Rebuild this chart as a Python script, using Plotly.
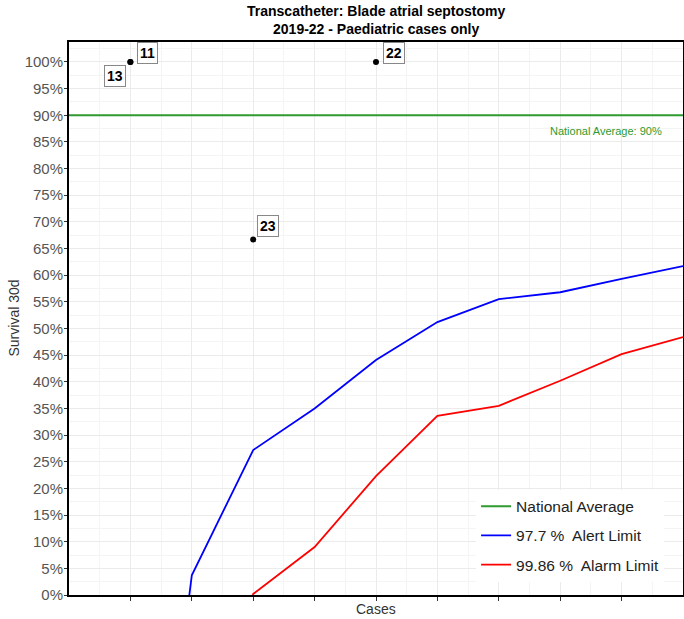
import plotly.graph_objects as go

# hospital points
hospital = ["11", "13", "22", "23"]
cases = [1, 1, 5, 3]
survival = [100, 100, 100, 66.7]

# control limits
alert_x = [1.96, 2, 3, 4, 5, 6, 7, 8, 9, 10]
alert_y = [0, 3.7, 27.2, 35.0, 44.1, 51.2, 55.5, 56.8, 59.3, 61.7]
alarm_x = [2.99, 3, 4, 5, 6, 7, 8, 9, 10]
alarm_y = [0, 0.2, 9.0, 22.3, 33.6, 35.5, 40.2, 45.2, 48.4]

nat_avg = 90
x_ticks = [1, 2, 3, 4, 5, 6, 7, 8, 9]
y_ticks = list(range(0, 101, 5))

GREEN = "#2f9a2f"
FONT = "Liberation Sans, Arial"

fig = go.Figure()

fig.add_trace(go.Scatter(x=[0, 10], y=[nat_avg, nat_avg], mode="lines",
                         line=dict(color=GREEN, width=2),
                         name="National Average", legendgroup="a"))
fig.add_trace(go.Scatter(x=alert_x, y=alert_y, mode="lines",
                         line=dict(color="#0000ff", width=1.8),
                         name="97.7 %  Alert Limit", legendgroup="b"))
fig.add_trace(go.Scatter(x=alarm_x, y=alarm_y, mode="lines",
                         line=dict(color="#ff0000", width=1.8),
                         name="99.86 %  Alarm Limit", legendgroup="c"))
fig.add_trace(go.Scatter(x=cases, y=survival, mode="markers",
                         marker=dict(color="black", size=6),
                         showlegend=False))

# label offsets (px) so the boxes sit like in the original
offsets = {"11": (17, -9), "13": (-15, 14), "22": (18, -9), "23": (15, -13)}
for h, c, s in zip(hospital, cases, survival):
    ax, ay = offsets[h]
    fig.add_annotation(x=c, y=s, text="<b>" + h + "</b>", showarrow=True,
                       arrowcolor="rgba(0,0,0,0)", ax=ax, ay=ay,
                       font=dict(size=14, color="black", family=FONT),
                       bgcolor="white", bordercolor="#888888", borderwidth=1,
                       borderpad=2)

fig.add_annotation(x=0.969, y=87.1, xref="paper", yref="y",
                   text="National Average: 90%", showarrow=False,
                   xanchor="right", yanchor="middle",
                   font=dict(size=11, color=GREEN))

# title and axis titles
fig.add_annotation(x=0.5, y=1, xref="paper", yref="paper", yanchor="bottom",
                   yshift=3, showarrow=False,
                   text="<b>Transcatheter: Blade atrial septostomy<br>2019-22 - Paediatric cases only</b>",
                   font=dict(size=14, color="black"))
fig.add_annotation(x=0.5, y=0, xref="paper", yref="paper", yanchor="top",
                   yshift=-4, text="Cases", showarrow=False,
                   font=dict(size=14, color="#333333"))
fig.add_annotation(x=0, y=0.5, xref="paper", yref="paper", xanchor="center",
                   xshift=-56, text="Survival 30d", showarrow=False, textangle=-90,
                   font=dict(size=14, color="#333333"))

fig.update_layout(
    width=684, height=619,
    margin=dict(l=69, r=1, t=42, b=24),
    plot_bgcolor="white", paper_bgcolor="white",
    font=dict(family=FONT, color="#333333"),
    legend=dict(x=0.663, y=0.024, xanchor="left", yanchor="bottom",
                bgcolor="white", font=dict(size=15.5, color="#222222"),
                traceorder="grouped", tracegroupgap=6, itemwidth=30),
    showlegend=True,
)

fig.update_xaxes(range=[0, 10], tickvals=x_ticks, ticktext=[""] * len(x_ticks),
                 ticks="outside", ticklen=4, tickcolor="#333333", automargin=False,
                 showline=True, linecolor="black", linewidth=2, mirror=True,
                 showgrid=True, gridcolor="#ebebeb", gridwidth=1,
                 minor=dict(dtick=0.5, tick0=0, showgrid=True, gridcolor="#f4f4f4"),
                 zeroline=False)

fig.update_yaxes(range=[0, 103.75], tickvals=y_ticks,
                 ticktext=[f"{v}%" for v in y_ticks],
                 ticks="outside", ticklen=3, tickcolor="#333333", automargin=False,
                 ticklabelstandoff=-2,
                 tickfont=dict(size=15, color="#555555"),
                 showline=True, linecolor="black", linewidth=2, mirror=True,
                 showgrid=True, gridcolor="#ebebeb", gridwidth=1,
                 minor=dict(dtick=2.5, tick0=0, showgrid=True, gridcolor="#f4f4f4"),
                 zeroline=False)

# page has a default body margin; drop it so the figure sits at 0,0
fig.write_html("out.html", config={"displayModeBar": False},
               post_script="document.body.style.margin='0';")
